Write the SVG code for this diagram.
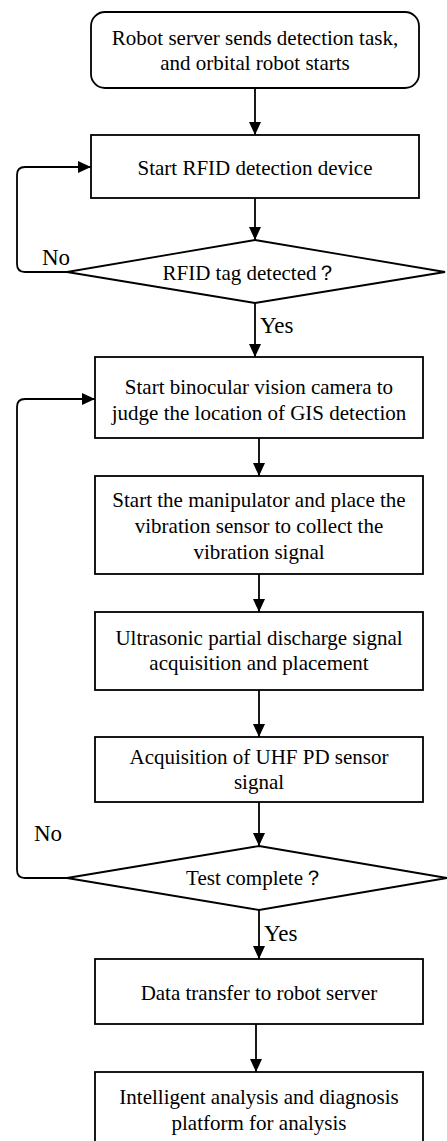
<svg xmlns="http://www.w3.org/2000/svg" width="447" height="1141" viewBox="0 0 447 1141">
<style>
.box{fill:#fff;stroke:#000;stroke-width:1.8}
.t{font-family:'Liberation Serif','DejaVu Serif',serif;font-size:21px;fill:#000;text-anchor:middle}
.lbl{font-family:'Liberation Serif','DejaVu Serif',serif;font-size:23px;fill:#000}
.c{fill:none;stroke:#000;stroke-width:1.8}
</style>
<defs>
<marker id="ah" markerUnits="userSpaceOnUse" markerWidth="14" markerHeight="14" viewBox="0 0 14 14" refX="13" refY="7" orient="auto">
<path d="M0,1 L13,7 L0,13 Z" fill="#000"/>
</marker>
</defs>
<g id="connectors">
<line class="c" x1="255" y1="88" x2="255" y2="135" marker-end="url(#ah)"/>
<line class="c" x1="255" y1="198" x2="255" y2="240" marker-end="url(#ah)"/>
<line class="c" x1="255" y1="303" x2="255" y2="357" marker-end="url(#ah)"/>
<path class="c" d="M67,272 H25 Q17,272 17,264 V175 Q17,167 25,167 H91" marker-end="url(#ah)"/>
<line class="c" x1="259" y1="438" x2="259" y2="476" marker-end="url(#ah)"/>
<line class="c" x1="259" y1="574" x2="259" y2="612" marker-end="url(#ah)"/>
<line class="c" x1="259" y1="690" x2="259" y2="737" marker-end="url(#ah)"/>
<line class="c" x1="259" y1="802" x2="259" y2="846" marker-end="url(#ah)"/>
<path class="c" d="M67,878 H25 Q17,878 17,870 V407 Q17,399 25,399 H95" marker-end="url(#ah)"/>
<line class="c" x1="259" y1="910" x2="259" y2="959" marker-end="url(#ah)"/>
<line class="c" x1="256" y1="1024" x2="256" y2="1072" marker-end="url(#ah)"/>
<text class="lbl" x="42" y="265">No</text>
<text class="lbl" x="260" y="333">Yes</text>
<text class="lbl" x="34" y="841">No</text>
<text class="lbl" x="264" y="941">Yes</text>
</g>
<g id="n1">
<rect class="box" x="91" y="12" width="328" height="76" rx="14"/>
<text class="t" x="255" y="45">Robot server sends detection task,</text>
<text class="t" x="255" y="70">and orbital robot starts</text>
</g>
<g id="n2">
<rect class="box" x="91" y="135" width="328" height="63"/>
<text class="t" x="255" y="175">Start RFID detection device</text>
</g>
<g id="n3">
<polygon class="box" points="255,240 445,272 255,303 67,272"/>
<text class="t" x="250" y="280">RFID tag detected？</text>
</g>
<g id="n4">
<rect class="box" x="95" y="357" width="328" height="81"/>
<text class="t" x="259" y="394">Start binocular vision camera to</text>
<text class="t" x="259" y="420">judge the location of GIS detection</text>
</g>
<g id="n5">
<rect class="box" x="95" y="476" width="328" height="98"/>
<text class="t" x="259" y="507">Start the manipulator and place the</text>
<text class="t" x="259" y="533">vibration sensor to collect the</text>
<text class="t" x="259" y="559">vibration signal</text>
</g>
<g id="n6">
<rect class="box" x="95" y="612" width="328" height="78"/>
<text class="t" x="259" y="645">Ultrasonic partial discharge signal</text>
<text class="t" x="259" y="670">acquisition and placement</text>
</g>
<g id="n7">
<rect class="box" x="95" y="737" width="328" height="65"/>
<text class="t" x="259" y="764">Acquisition of UHF PD sensor</text>
<text class="t" x="259" y="789">signal</text>
</g>
<g id="n8">
<polygon class="box" points="259,846 447,878 259,910 67,878"/>
<text class="t" x="255" y="885">Test complete？</text>
</g>
<g id="n9">
<rect class="box" x="95" y="959" width="328" height="65"/>
<text class="t" x="259" y="1000">Data transfer to robot server</text>
</g>
<g id="n10">
<rect class="box" x="95" y="1072" width="328" height="80"/>
<text class="t" x="259" y="1104">Intelligent analysis and diagnosis</text>
<text class="t" x="259" y="1130">platform for analysis</text>
</g>
</svg>
